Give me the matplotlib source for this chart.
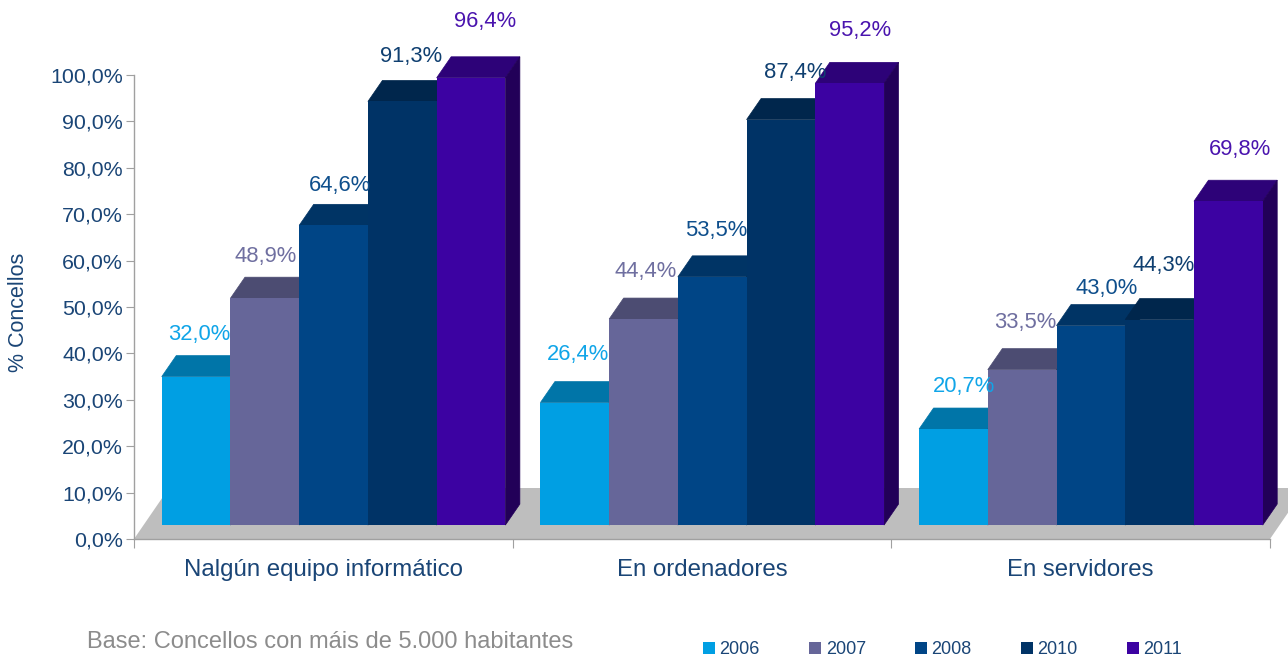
#!/usr/bin/env python
# -*- coding: utf-8 -*-

import matplotlib
matplotlib.use('Agg')
import matplotlib.pyplot as plt
from matplotlib.patches import Polygon, Patch

plt.rcParams['font.family'] = ['Liberation Sans', 'DejaVu Sans']

# Data
categories = ['Nalgún equipo informático', 'En ordenadores', 'En servidores']
years = ['2006', '2007', '2008', '2010', '2011']
values_2006 = [32.0, 26.4, 20.7]
values_2007 = [48.9, 44.4, 33.5]
values_2008 = [64.6, 53.5, 43.0]
values_2010 = [91.3, 87.4, 44.3]
values_2011 = [96.4, 95.2, 69.8]
series = [values_2006, values_2007, values_2008, values_2010, values_2011]

# Colours per series: front, top, side
front_colors = ['#009fe3', '#666699', '#004586', '#003366', '#3c02a2']
top_colors = ['#0075a8', '#4c4c72', '#003465', '#00264c', '#2d0278']
side_colors = ['#005a80', '#3a3a58', '#00284d', '#001d3a', '#220058']
label_colors = ['#10a5e8', '#6f6fa0', '#0f4f8c', '#0f3f70', '#4a14ae']
text_color = '#1a4576'

# Hand placed label nudges in pixels (per series, per category)
label_dx = [[3, 3, 11], [1, 2, 3], [6, 4, 16], [9, 14, 4], [14, 10, 12]]
label_dy = [[42, 48, 43], [42, 48, 47], [40, 46, 37], [45, 47, 54], [56, 53, 52]]

fig = plt.figure(figsize=(12.88, 6.57), dpi=100)
ax = fig.add_axes([134 / 1288, (657 - 539) / 657, 1136 / 1288, 464 / 657])
ax.set_xlim(0, 3)
ax.set_ylim(0, 100)

# 3D look, in data units
bar_w = 0.1815
base = 3.0
depth_x = 14.5 / (1136 / 3)
depth_y = 21 / 4.64
shift = 0.027

# floor
floor_x = 35 / (1136 / 3)
floor_y = 51 / 4.64
ax.add_patch(Polygon([(0, 0), (3, 0), (3 + floor_x, floor_y), (floor_x, floor_y)],
                     closed=True, facecolor='#bebebe', edgecolor='none', clip_on=False, zorder=1))

for c in range(len(categories)):
    for s in range(len(years)):
        left = c + 0.5 + shift + (s - 2.5) * bar_w
        top = series[s][c] + base
        z = 2 + c * 10 + s
        ax.bar(left, series[s][c], width=bar_w, bottom=base, align='edge',
               color=front_colors[s], linewidth=0, zorder=z + 0.5, clip_on=False)
        # top face, thin edge hides the seam against the front
        ax.add_patch(Polygon([(left, top), (left + bar_w, top),
                              (left + bar_w + depth_x, top + depth_y), (left + depth_x, top + depth_y)],
                             closed=True, facecolor=top_colors[s], edgecolor=top_colors[s],
                             linewidth=0.5, clip_on=False, zorder=z))
        # side face
        right = left + bar_w
        ax.add_patch(Polygon([(right, base), (right + depth_x, base + depth_y),
                              (right + depth_x, top + depth_y), (right, top)],
                             closed=True, facecolor=side_colors[s], edgecolor=side_colors[s],
                             linewidth=0.5, clip_on=False, zorder=z))
        ax.annotate(f'{series[s][c]:.1f}%'.replace('.', ','),
                    xy=(left + bar_w / 2, top),
                    xytext=(label_dx[s][c], label_dy[s][c]), textcoords='offset pixels',
                    ha='center', va='center', fontsize=15.8, color=label_colors[s],
                    zorder=100, annotation_clip=False)

# axes
for name in ['top', 'right']:
    ax.spines[name].set_visible(False)
for name in ['left', 'bottom']:
    ax.spines[name].set_color('#a0a0a0')
    ax.spines[name].set_linewidth(1.0)
    ax.spines[name].set_zorder(60)

yticks = list(range(0, 101, 10))
ax.set_yticks(yticks)
ax.set_yticklabels([f'{t},0%' for t in yticks], fontsize=15.4, color=text_color)
ax.tick_params(axis='y', length=6, color='#a0a0a0', pad=2)
ax.set_xticks([0, 1, 2, 3])
ax.set_xticklabels([])
ax.tick_params(axis='x', which='major', length=6.5, color='#a0a0a0')
ax.set_xticks([0.5, 1.5, 2.5], minor=True)
ax.set_xticklabels(categories, minor=True, fontsize=17.3, color=text_color)
ax.tick_params(axis='x', which='minor', length=0, pad=14.5)

fig.text(19 / 1288, 1 - 312 / 657, '% Concellos', rotation=90, ha='center', va='center',
         fontsize=15.5, color=text_color)
fig.text(87 / 1288, 1 - 642 / 657, 'Base: Concellos con máis de 5.000 habitantes',
         ha='left', va='center', fontsize=17, color='#8c8c8c')

handles = [Patch(facecolor=front_colors[s], edgecolor='none', label=years[s]) for s in range(len(years))]
fig.legend(handles=handles, ncol=5, frameon=False, loc='center left',
           bbox_to_anchor=(703 / 1288, 1 - 650 / 657), borderaxespad=0, borderpad=0,
           fontsize=13, labelcolor=text_color, handlelength=0.67, handleheight=0.67,
           handletextpad=0.25, columnspacing=2.72)

fig.savefig('out.png', dpi=100, facecolor='white')
